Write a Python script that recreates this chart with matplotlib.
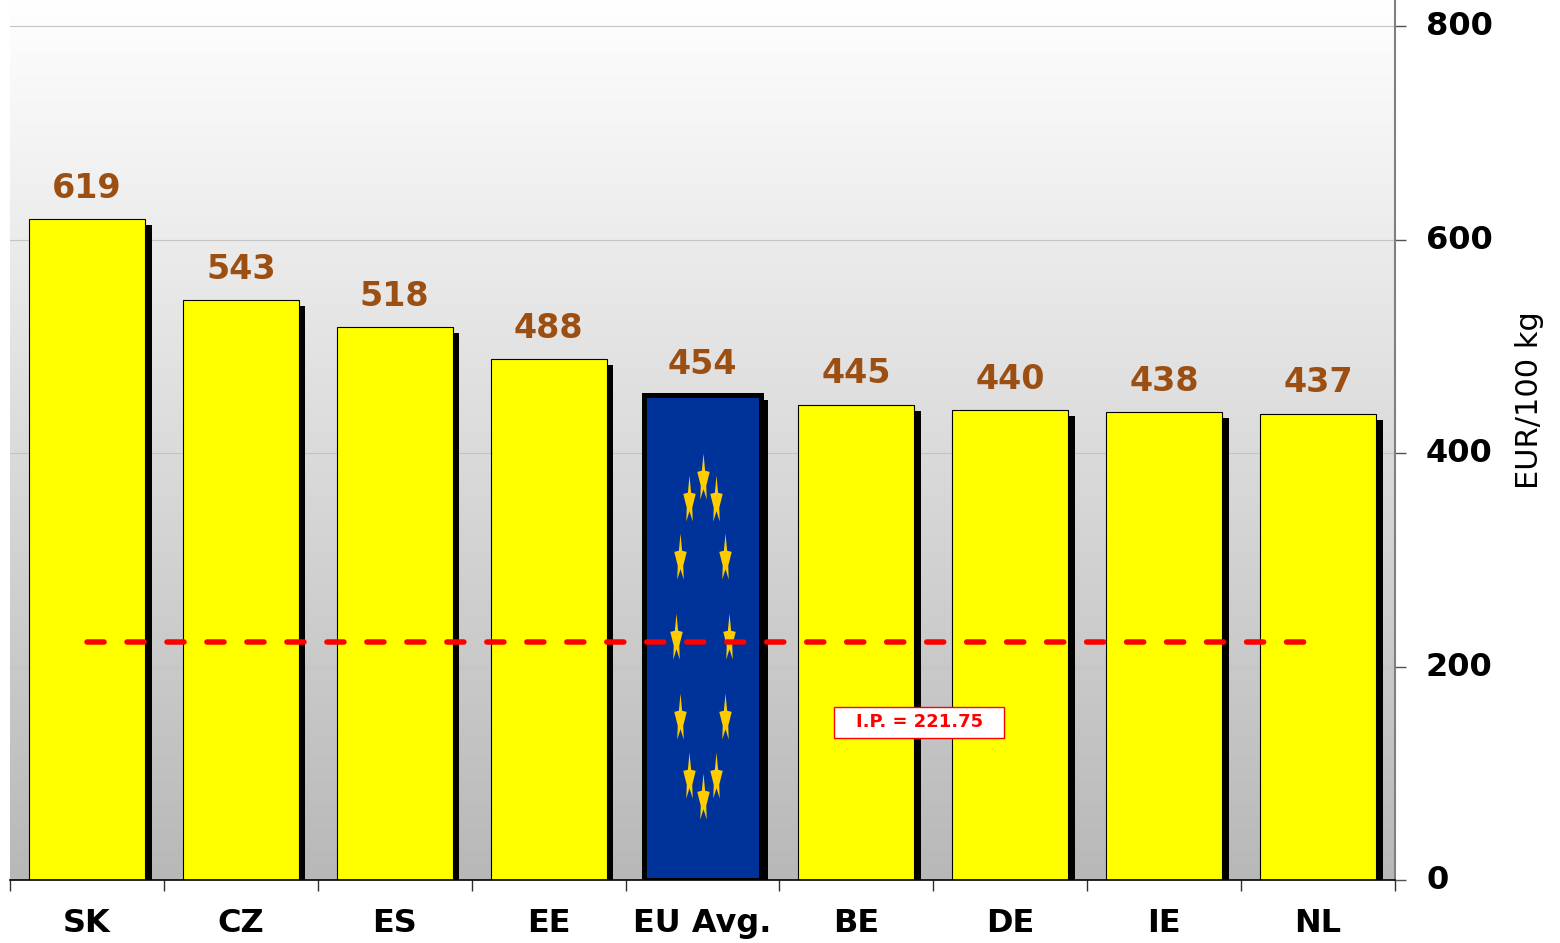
import numpy as np
import matplotlib
matplotlib.use("Agg")
import matplotlib.pyplot as plt
import matplotlib.patheffects as pe
from matplotlib.colors import LinearSegmentedColormap
from matplotlib.patches import Rectangle
from matplotlib.path import Path
from matplotlib.transforms import ScaledTranslation

categories = ["SK", "CZ", "ES", "EE", "EU Avg.", "BE", "DE", "IE", "NL"]
values = [619, 543, 518, 488, 454, 445, 440, 438, 437]
highlight = "EU Avg."
intervention_price = 221.75
y_ticks = [0, 200, 400, 600, 800]
y_label = "EUR/100 kg"
note_text = "I.P. = 221.75"

W, H = 1560, 943
PX = 72 / 100  # one pixel in points
plt.rcParams["font.family"] = "DejaVu Sans"

fig = plt.figure(figsize=(W / 100, H / 100), dpi=100, facecolor="white")
ax = fig.add_axes([10 / W, (H - 880) / H, 1385 / W, 880 / H])
ax.set_xlim(-0.5, len(categories) - 0.5)
ax.set_ylim(0, 824.4)

# Background gradient
cmap = LinearSegmentedColormap.from_list("bg", ["#ffffff", "#b8b8b8"])
ax.imshow(np.linspace(0, 1, 256).reshape(-1, 1), extent=(-0.5, len(categories) - 0.5, 0, 824.4),
          aspect="auto", cmap=cmap, origin="upper", zorder=0)

ax.set_yticks(y_ticks)
ax.grid(axis="y", color="#c4c4c4", lw=0.8, zorder=1)
ax.set_axisbelow(False)
for gl in ax.get_ygridlines():
    gl.set_zorder(1)

x = np.arange(len(categories))
bar_w = 0.755
shadow = [pe.SimplePatchShadow(offset=(6.5 * PX, -6 * PX), shadow_rgbFace="black", alpha=1), pe.Normal()]
shadow_hi = [pe.SimplePatchShadow(offset=(7.5 * PX, -5 * PX), shadow_rgbFace="black", alpha=1), pe.Normal()]
for xi, name, val in zip(x, categories, values):
    if name == highlight:
        ax.bar(xi, val, width=bar_w, color="#003399", edgecolor="black", lw=5 * PX, zorder=3,
               path_effects=shadow_hi)
    else:
        ax.bar(xi, val, width=bar_w, color="#ffff00", edgecolor="black", lw=0.8, zorder=3,
               path_effects=shadow)
    ax.annotate(str(val), (xi, val), xytext=(0, 31 * PX), textcoords="offset points",
                ha="center", va="center", fontsize=24, fontweight="bold", color="#9c4f12", zorder=6)

# EU stars in a ring on the highlighted bar
star = Path([(0, 1), (0.07, 0.25), (0.27, 0.2), (0.12, -0.4), (0.14, -1), (0, -0.55),
             (-0.14, -1), (-0.12, -0.4), (-0.27, 0.2), (-0.07, 0.25), (0, 1)], closed=True)
hi = categories.index(highlight)
ang = np.deg2rad(np.arange(0, 360, 30))
ax.scatter(hi + 0.169 * np.sin(ang), values[hi] * 0.503 + 150 * np.cos(ang), marker=star, s=1100,
           color="#ffcc00", linewidths=0, zorder=4)

# Intervention price line
line_tr = ax.transData + ScaledTranslation(0, 1.5 / 100, fig.dpi_scale_trans)
ax.plot([x[0], x[-1]], [intervention_price] * 2, color="#ff0000", lw=5.5 * PX,
        linestyle=(0, (3.1, 4.17)), dash_capstyle="round", zorder=5, transform=line_tr)

# Note box
ax.add_patch(Rectangle(((834 - 10) / 1385, (880 - 738) / 880), 170 / 1385, 31 / 880, transform=ax.transAxes,
                       facecolor="white", edgecolor="#ff0000", lw=1.0, zorder=7))
ax.text((920 - 10) / 1385, (880 - 722) / 880, note_text, transform=ax.transAxes, ha="center", va="center",
        color="#ff0000", fontsize=13, fontweight="bold", zorder=8)

# Axes
for s in ("top", "left"):
    ax.spines[s].set_visible(False)
ax.spines["right"].set_color("#808080")
ax.spines["right"].set_linewidth(1.5)
ax.spines["bottom"].set_color("black")
ax.spines["bottom"].set_linewidth(1.2)
for sp in ax.spines.values():
    sp.set_zorder(9)

ax.yaxis.tick_right()
ax.yaxis.set_label_position("right")
ax.tick_params(axis="y", direction="out", length=11 * PX, width=1, color="#505050", pad=20 * PX,
               labelsize=23)
up = ScaledTranslation(0, 3 / 100, fig.dpi_scale_trans)
for t in ax.get_yticklabels():
    t.set_fontweight("bold")
    t.set_transform(t.get_transform() + up)

ax.set_xticks(np.arange(len(categories) + 1) - 0.5)
ax.set_xticklabels([])
ax.tick_params(axis="x", which="major", direction="out", length=11 * PX, width=1, color="#303030")
ax.set_xticks(x, minor=True)
ax.set_xticklabels(categories, minor=True, fontsize=23, fontweight="bold")
ax.tick_params(axis="x", which="minor", length=0, pad=28 * PX)

ax.set_ylabel(y_label, fontsize=22, rotation=90)
ax.yaxis.set_label_coords((1515 - 10) / 1385, (880 - 400) / 880)

fig.savefig("out.png", dpi=100, facecolor="white")
